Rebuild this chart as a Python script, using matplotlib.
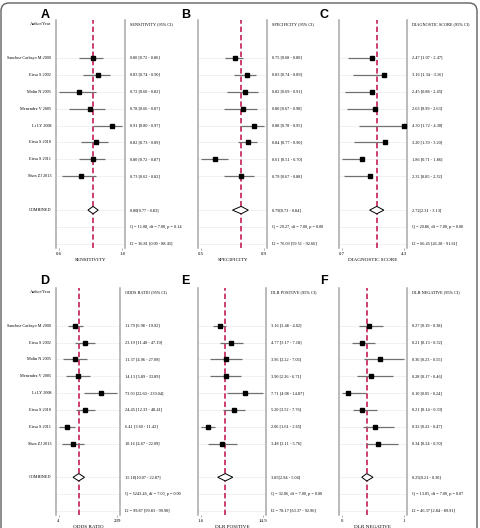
import numpy as np
import matplotlib.pyplot as plt
from matplotlib.patches import Polygon, FancyBboxPatch
from matplotlib.ticker import NullLocator
from matplotlib.transforms import blended_transform_factory

plt.rcParams['font.family'] = ['Liberation Serif', 'DejaVu Serif']

authors = ["Sanchez-Carbayo M 2000", "Eissa S 2002", "Molin N 2005", "Menendez V 2005",
           "Li LY 2008", "Eissa S 2010", "Eissa S 2011", "Shen ZJ 2013"]

# A - sensitivity
sens_est = [0.80, 0.83, 0.72, 0.78, 0.91, 0.82, 0.80, 0.73]
sens_lo = [0.72, 0.74, 0.60, 0.66, 0.80, 0.73, 0.72, 0.62]
sens_hi = [0.86, 0.90, 0.82, 0.87, 0.97, 0.89, 0.87, 0.82]
sens_pool = [0.80, 0.77, 0.83]
sens_q = [11.08, 7.00, 0.14]
sens_i2 = [36.81, 0.00, 88.45]

# B - specificity
spec_est = [0.75, 0.83, 0.82, 0.80, 0.88, 0.84, 0.61, 0.79]
spec_lo = [0.68, 0.74, 0.69, 0.67, 0.78, 0.77, 0.51, 0.67]
spec_hi = [0.80, 0.89, 0.91, 0.90, 0.95, 0.90, 0.70, 0.88]
spec_pool = [0.79, 0.73, 0.84]
spec_q = [29.27, 7.00, 0.00]
spec_i2 = [76.09, 59.51, 92.66]

# C - diagnostic score (upper limit printed equal to estimate)
ds_est = [2.47, 3.16, 2.45, 2.63, 4.30, 3.20, 1.86, 2.32]
ds_lo = [1.07, 1.34, 0.88, 0.99, 1.72, 1.39, 0.71, 0.85]
ds_hi = [2.47, 3.16, 2.45, 2.63, 4.30, 3.20, 1.86, 2.32]
ds_pool = [2.72, 2.31, 3.13]
ds_q = [20.86, 7.00, 0.00]
ds_i2 = [66.45, 41.28, 91.61]

# D - odds ratio
or_est = [11.79, 23.19, 11.37, 14.13, 73.50, 24.45, 6.41, 10.16]
or_lo = [6.98, 11.40, 4.96, 5.89, 22.60, 12.33, 3.60, 4.67]
or_hi = [19.92, 47.19, 27.09, 33.89, 239.04, 48.41, 11.42, 22.09]
or_pool = [15.18, 10.07, 22.87]
or_q = [5243.46, 7.00, 0.00]
or_i2 = [99.87, 99.83, 99.90]

# E - positive likelihood ratio
plr_est = [3.16, 4.77, 3.96, 3.90, 7.71, 5.20, 2.06, 3.48]
plr_lo = [2.48, 3.17, 2.22, 2.26, 4.08, 3.52, 1.61, 2.11]
plr_hi = [4.02, 7.18, 7.06, 6.71, 14.87, 7.76, 2.65, 5.76]
plr_pool = [3.85, 2.94, 5.04]
plr_q = [32.06, 7.00, 0.00]
plr_i2 = [78.17, 63.37, 92.96]

# F - negative likelihood ratio
nlr_est = [0.27, 0.21, 0.36, 0.28, 0.10, 0.21, 0.32, 0.34]
nlr_lo = [0.19, 0.13, 0.23, 0.17, 0.05, 0.14, 0.22, 0.24]
nlr_hi = [0.38, 0.32, 0.55, 0.46, 0.24, 0.33, 0.47, 0.50]
nlr_pool = [0.25, 0.21, 0.30]
nlr_q = [13.05, 7.00, 0.07]
nlr_i2 = [46.37, 2.84, 89.91]

W, H = 480, 528
fig = plt.figure(figsize=(W / 100, H / 100), dpi=100)

RED = '#c8325f'
FS = 3.1


def px_rect(x0, x1, ytop, ybot):
    return [x0 / W, 1 - ybot / H, (x1 - x0) / W, (ybot - ytop) / H]


def forest(rect, est, lo, hi, pool, q, i2, head, xlab, ticklabels, log=False, names=False):
    ax = fig.add_axes(rect)
    rows = np.arange(len(est))
    ycomb, yq, yi2 = len(est) + 1, len(est) + 2, len(est) + 3
    for y in list(rows) + [ycomb, yq, yi2]:
        ax.axhline(y, color='#ececec', lw=0.5, zorder=0)
    ax.hlines(rows, lo, hi, color='#707070', lw=0.9, zorder=2)
    ax.plot(est, rows, 's', color='black', ms=2.8, zorder=3)
    ax.axvline(pool[0], color=RED, lw=1.3, ls=(0, (3, 1.6)), zorder=1)
    dia = Polygon([(pool[1], ycomb), (pool[0], ycomb - 0.22), (pool[2], ycomb),
                   (pool[0], ycomb + 0.22)], closed=True, fc='white', ec='black', lw=0.7, zorder=4)
    ax.add_patch(dia)

    a, b = min(lo), max(hi)
    if log:
        ax.set_xscale('log')
        la, lb = np.log(a), np.log(b)
        pad = 0.045 * (lb - la)
        ax.set_xlim(np.exp(la - pad), np.exp(lb + pad))
    else:
        pad = 0.045 * (b - a)
        ax.set_xlim(a - pad, b + pad)
    ax.set_ylim(yi2 + 0.24, -2.24)
    ax.set_xticks([a, b])
    ax.set_xticklabels(ticklabels, fontsize=FS + 0.4)
    ax.xaxis.set_minor_locator(NullLocator())
    ax.set_yticks([])
    ax.tick_params(axis='x', length=1.5, width=0.5, color='#909090', pad=1.5)
    ax.set_xlabel(xlab, fontsize=FS + 0.6, labelpad=1.5)
    for s in ['top', 'bottom']:
        ax.spines[s].set_visible(False)
    for s in ['left', 'right']:
        ax.spines[s].set_color('#a8a8a8')
        ax.spines[s].set_linewidth(1.1)

    tr = blended_transform_factory(ax.transAxes, ax.transData)
    kw = dict(transform=tr, fontsize=FS, va='center')
    ax.annotate(head, (1, -2), xycoords=tr, xytext=(5, 0), textcoords='offset pixels',
                fontsize=FS, va='center', ha='left')
    for i in rows:
        ax.annotate(f"{est[i]:.2f} [{lo[i]:.2f} - {hi[i]:.2f}]", (1, i), xycoords=tr,
                    xytext=(5, 0), textcoords='offset pixels', fontsize=FS, va='center')
    ax.annotate(f"{pool[0]:.2f}[{pool[1]:.2f} - {pool[2]:.2f}]", (1, ycomb), xycoords=tr,
                xytext=(5, 0), textcoords='offset pixels', fontsize=FS, va='center')
    ax.annotate(f"Q = {q[0]:.2f}, df = {q[1]:.2f}, p = {q[2]:.2f}", (1, yq), xycoords=tr,
                xytext=(5, 0), textcoords='offset pixels', fontsize=FS, va='center')
    ax.annotate(f"I2 = {i2[0]:.2f} [{i2[1]:.2f} - {i2[2]:.2f}]", (1, yi2), xycoords=tr,
                xytext=(5, 0), textcoords='offset pixels', fontsize=FS, va='center')
    if names:
        ax.annotate("Author/Year", (0, -2), xycoords=tr, xytext=(-5, 0),
                    textcoords='offset pixels', fontsize=FS, va='center', ha='right')
        for i in rows:
            ax.annotate(authors[i], (0, i), xycoords=tr, xytext=(-5, 0),
                        textcoords='offset pixels', fontsize=FS, va='center', ha='right')
        ax.annotate("COMBINED", (0, ycomb), xycoords=tr, xytext=(-5, 0),
                    textcoords='offset pixels', fontsize=FS, va='center', ha='right')
    return ax


forest(px_rect(56, 125, 20, 248), sens_est, sens_lo, sens_hi, sens_pool, sens_q, sens_i2,
       "SENSITIVITY (95% CI)", "SENSITIVITY", ["0.6", "1.0"], names=True)
forest(px_rect(198, 267, 20, 248), spec_est, spec_lo, spec_hi, spec_pool, spec_q, spec_i2,
       "SPECIFICITY (95% CI)", "SPECIFICITY", ["0.5", "0.9"])
forest(px_rect(339, 407, 20, 248), ds_est, ds_lo, ds_hi, ds_pool, ds_q, ds_i2,
       "DIAGNOSTIC SCORE (95% CI)", "DIAGNOSTIC SCORE", ["0.7", "4.3"])
forest(px_rect(56, 120, 288, 515), or_est, or_lo, or_hi, or_pool, or_q, or_i2,
       "ODDS RATIO (95% CI)", "ODDS RATIO", ["4", "239"], log=True, names=True)
forest(px_rect(198, 266, 288, 515), plr_est, plr_lo, plr_hi, plr_pool, plr_q, plr_i2,
       "DLR POSITIVE (95% CI)", "DLR POSITIVE", ["1.6", "14.9"], log=True)
forest(px_rect(339, 407, 288, 515), nlr_est, nlr_lo, nlr_hi, nlr_pool, nlr_q, nlr_i2,
       "DLR NEGATIVE (95% CI)", "DLR NEGATIVE", ["0", "1"])

letter_kw = dict(fontsize=9, fontweight='bold', family='Liberation Sans', ha='center', va='center')
for lab, x, y in [("A", 45, 15), ("B", 186, 15), ("C", 324, 15),
                  ("D", 45, 281), ("E", 185, 281), ("F", 324, 281)]:
    fig.text(x / W, 1 - y / H, lab, **letter_kw)

border = FancyBboxPatch((0.01, -0.5), 4.76, 5.75, boxstyle="round,pad=0,rounding_size=0.08",
                        transform=fig.dpi_scale_trans, fc='none', ec='#606060', lw=1.0)
fig.patches.append(border)

fig.savefig("out.png", dpi=100)
